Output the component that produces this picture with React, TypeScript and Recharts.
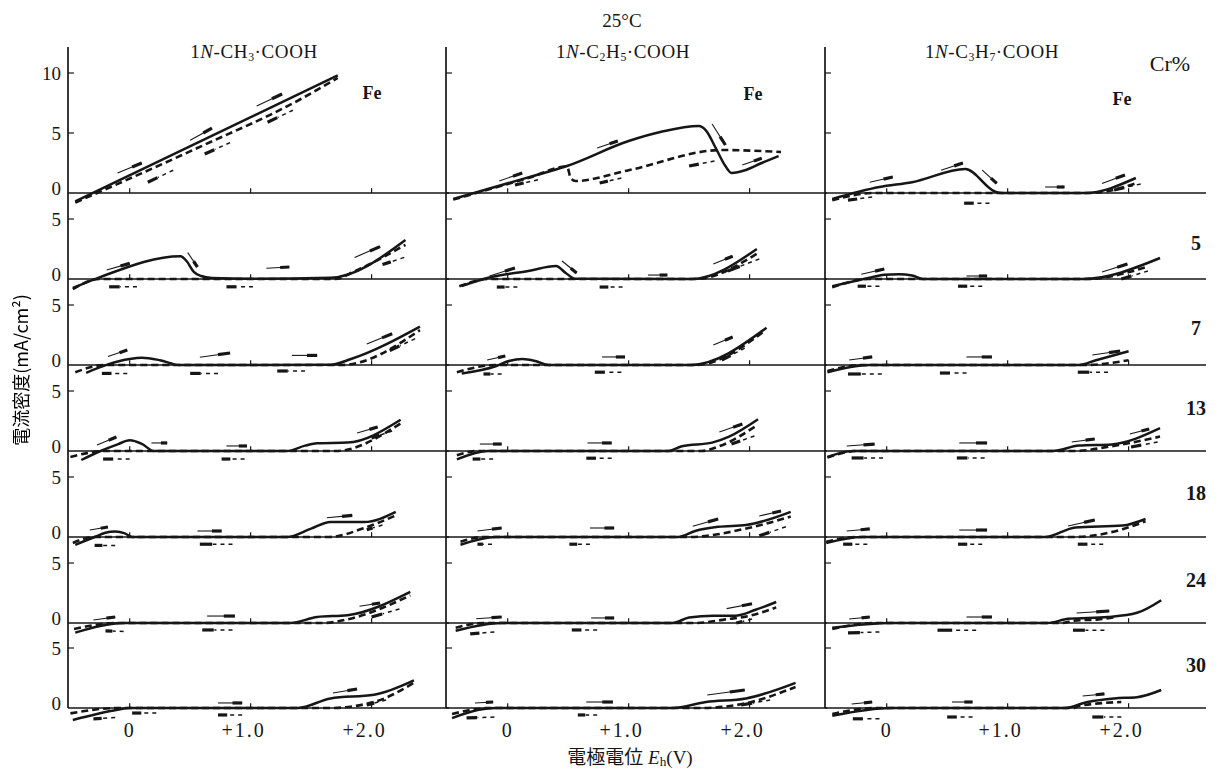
import React from 'react';
import { LineChart, Line, XAxis, YAxis, ReferenceLine } from 'recharts';

type Pt = [number, number];
type Arrow = [number, number, number, number]; // tail (E, i) -> head (E, i)

// ---- categories / ticks ----
const acidTitles = ['CH3', 'C2H5', 'C3H7'];
const crLabels = ['Fe', '5', '7', '13', '18', '24', '30'];
const xTicks = [0, 1, 2];
const xTickLabels = ['0', '+1.0', '+2.0'];
const yTicksFe = [0, 5, 10];
const yTicksCr = [0, 5];

// ---- 1N-CH3·COOH (forward scan = solid, reverse scan = dashed), [E (V), i (mA/cm2)] ----
const acFeSolid: Pt[] = [[-0.45, -0.7], [1.72, 9.8]];
const acFeDashed: Pt[] = [[-0.45, -0.8], [0.56, 3.75], [1.4, 7.75], [1.72, 9.6]];
const acCr5Solid: Pt[] = [[-0.47, -0.75], [-0.26, 0.1], [0.42, 1.9], [0.47, 1.5], [0.53, 0.6], [0.59, 0.25], [0.68, 0.08], [1.0, 0.02], [1.66, 0.1], [2.28, 3.25]];
const acCr5Dashed: Pt[] = [[-0.47, -0.85], [-0.25, 0], [1.7, 0], [1.85, 0.6], [2.28, 2.85]];
const acCr7Solid: Pt[] = [[-0.36, -0.65], [-0.18, 0.05], [0.0, 0.5], [0.1, 0.6], [0.25, 0.4], [0.41, 0], [1.66, 0.02], [1.83, 0.5], [2.4, 3.2]];
const acCr7Dashed: Pt[] = [[-0.45, -0.6], [-0.2, 0], [1.75, 0], [2.4, 2.9]];
const acCr13Solid: Pt[] = [[-0.4, -0.75], [-0.24, 0], [-0.1, 0.55], [0.0, 0.9], [0.1, 0.6], [0.2, 0], [1.3, 0], [1.45, 0.45], [1.55, 0.65], [1.8, 0.7], [2.24, 2.6]];
const acCr13Dashed: Pt[] = [[-0.49, -0.5], [-0.2, 0], [1.7, 0], [2.24, 2.3]];
const acCr18Solid: Pt[] = [[-0.45, -0.65], [-0.29, 0], [-0.2, 0.35], [-0.12, 0.45], [-0.04, 0.3], [0.02, 0], [1.3, 0], [1.5, 0.7], [1.66, 1.25], [1.94, 1.25], [2.2, 2.1]];
const acCr18Dashed: Pt[] = [[-0.47, -0.5], [-0.3, 0], [1.65, 0], [1.94, 0.75], [2.2, 1.8]];
const acCr24Solid: Pt[] = [[-0.45, -0.8], [-0.04, 0], [1.33, 0], [1.55, 0.5], [1.8, 0.65], [2.32, 2.6]];
const acCr24Dashed: Pt[] = [[-0.46, -0.5], [-0.1, 0], [1.6, 0], [1.8, 0.3], [2.32, 2.3]];
const acCr30Solid: Pt[] = [[-0.47, -1.0], [-0.1, -0.15], [0.0, 0], [1.39, 0], [1.66, 0.8], [2.02, 1.1], [2.35, 2.3]];
const acCr30Dashed: Pt[] = [[-0.49, -0.45], [-0.1, 0], [1.65, 0], [2.02, 0.5], [2.35, 2.1]];

// ---- 1N-C2H5·COOH ----
const prFeSolid: Pt[] = [[-0.45, -0.5], [0.17, 1.3], [0.49, 2.25], [1.0, 4.33], [1.27, 5.1], [1.58, 5.58], [1.64, 5.2], [1.72, 3.75], [1.8, 2.25], [1.85, 1.67], [1.97, 1.92], [2.1, 2.5], [2.24, 3.08]];
const prFeDashed: Pt[] = [[-0.45, -0.55], [0.17, 1.25], [0.49, 2.2], [0.5, 2.0], [0.52, 1.25], [0.56, 1.0], [1.0, 1.9], [1.77, 3.58], [2.26, 3.42]];
const prCr5Solid: Pt[] = [[-0.38, -0.58], [-0.16, 0.1], [0.17, 0.67], [0.4, 1.08], [0.48, 0.5], [0.56, 0.02], [1.52, 0], [2.06, 2.5]];
const prCr5Dashed: Pt[] = [[-0.4, -0.6], [-0.15, 0], [1.55, 0], [2.06, 2.1]];
const prCr7Solid: Pt[] = [[-0.38, -0.7], [-0.1, -0.1], [0.01, 0.33], [0.12, 0.5], [0.23, 0.33], [0.34, 0], [1.51, 0], [2.14, 3.1]];
const prCr7Dashed: Pt[] = [[-0.42, -0.6], [-0.1, 0], [1.55, 0], [2.12, 2.8]];
const prCr13Solid: Pt[] = [[-0.42, -0.7], [-0.16, 0], [1.33, 0], [1.44, 0.4], [1.69, 0.7], [1.83, 1.2], [2.07, 2.65]];
const prCr13Dashed: Pt[] = [[-0.42, -0.35], [-0.25, 0], [1.6, 0], [1.75, 0.4], [2.07, 2.2]];
const prCr18Solid: Pt[] = [[-0.39, -0.65], [-0.1, 0], [1.41, 0], [1.55, 0.5], [1.74, 0.85], [1.97, 1.0], [2.34, 2.1]];
const prCr18Dashed: Pt[] = [[-0.39, -0.4], [-0.2, 0], [1.5, 0], [1.99, 0.75], [2.34, 1.7]];
const prCr24Solid: Pt[] = [[-0.43, -0.65], [-0.05, 0], [1.36, 0], [1.5, 0.45], [1.7, 0.6], [1.88, 0.6], [2.05, 1.1], [2.22, 1.75]];
const prCr24Dashed: Pt[] = [[-0.43, -0.4], [-0.2, 0], [1.55, 0], [1.8, 0.3], [2.0, 0.6], [2.22, 1.3]];
const prCr30Solid: Pt[] = [[-0.46, -0.85], [-0.24, -0.15], [-0.1, 0], [1.36, 0], [1.64, 0.5], [1.97, 0.8], [2.38, 2.1]];
const prCr30Dashed: Pt[] = [[-0.46, -0.5], [-0.15, 0], [1.6, 0], [1.97, 0.4], [2.38, 1.75]];

// ---- 1N-C3H7·COOH ----
const buFeSolid: Pt[] = [[-0.45, -0.5], [-0.06, 0.5], [0.21, 0.9], [0.65, 2.0], [0.9, 0.1], [0.95, 0], [1.64, 0], [2.06, 1.25]];
const buFeDashed: Pt[] = [[-0.45, -0.6], [-0.1, 0], [1.68, 0], [2.06, 0.8]];
const buCr5Solid: Pt[] = [[-0.45, -0.6], [-0.12, 0.15], [-0.02, 0.35], [0.1, 0.4], [0.21, 0.3], [0.3, 0], [1.62, 0], [2.26, 1.75]];
const buCr5Dashed: Pt[] = [[-0.45, -0.7], [-0.15, 0], [1.65, 0], [2.15, 1.0]];
const buCr7Solid: Pt[] = [[-0.49, -0.6], [-0.14, 0], [1.59, 0], [1.73, 0.4], [2.0, 1.15]];
const buCr7Dashed: Pt[] = [[-0.49, -0.5], [-0.2, 0], [1.65, 0], [2.0, 0.4]];
const buCr13Solid: Pt[] = [[-0.49, -0.5], [-0.28, 0], [1.37, 0], [1.59, 0.45], [1.86, 0.55], [2.26, 1.9]];
const buCr13Dashed: Pt[] = [[-0.49, -0.55], [-0.25, 0], [1.55, 0], [1.86, 0.4], [2.26, 1.2]];
const buCr18Solid: Pt[] = [[-0.5, -0.5], [-0.2, 0], [1.31, 0], [1.56, 0.8], [1.95, 0.95], [2.14, 1.5]];
const buCr18Dashed: Pt[] = [[-0.5, -0.4], [-0.25, 0], [1.55, 0], [1.95, 0.65], [2.14, 1.3]];
const buCr24Solid: Pt[] = [[-0.45, -0.4], [0.04, 0], [1.33, 0], [1.5, 0.35], [1.83, 0.5], [2.07, 0.85], [2.27, 1.9]];
const buCr24Dashed: Pt[] = [[-0.45, -0.5], [-0.1, 0], [1.45, 0], [1.55, 0.2], [1.75, 0.3], [1.9, 0.5]];
const buCr30Solid: Pt[] = [[-0.45, -0.65], [0.04, 0], [1.47, 0], [1.66, 0.5], [1.88, 0.8], [2.07, 0.9], [2.27, 1.5]];
const buCr30Dashed: Pt[] = [[-0.45, -0.5], [-0.1, 0], [1.55, 0], [1.58, 0.15], [1.94, 0.5]];

// ---- scan-direction arrows: forward (solid) and reverse (dash-dot), tail -> head ----
const acFeFwd: Arrow[] = [[-0.1, 1.67, 0.1, 2.5], [0.5, 4.4, 0.68, 5.4], [1.05, 7.25, 1.26, 8.25]];
const acFeRev: Arrow[] = [[0.36, 1.9, 0.15, 0.9], [0.83, 4.2, 0.62, 3.25], [1.35, 6.9, 1.14, 5.9]];
const acCr5Fwd: Arrow[] = [[-0.19, 0.75, 0.0, 1.3], [0.48, 2.2, 0.56, 1.0], [1.13, 0.9, 1.32, 1.0], [1.86, 1.8, 2.07, 2.7]];
const acCr5Rev: Arrow[] = [[0.06, -0.65, -0.17, -0.65], [1.02, -0.65, 0.8, -0.65], [2.27, 1.8, 2.09, 1.2]];
const acCr7Fwd: Arrow[] = [[-0.18, 0.7, -0.02, 1.25], [0.58, 0.65, 0.83, 1.0], [1.34, 0.8, 1.55, 0.8], [1.96, 1.75, 2.17, 2.6]];
const acCr7Rev: Arrow[] = [[-0.02, -0.7, -0.23, -0.7], [0.73, -0.7, 0.5, -0.7], [1.45, -0.5, 1.22, -0.5], [2.36, 2.2, 2.15, 1.2]];
const acCr13Fwd: Arrow[] = [[-0.27, 0.5, -0.11, 1.17], [0.18, 0.67, 0.31, 0.67], [0.8, 0.42, 0.97, 0.42], [1.88, 1.5, 2.05, 2.0]];
const acCr13Rev: Arrow[] = [[0.0, -0.67, -0.22, -0.67], [0.95, -0.67, 0.76, -0.67], [2.17, 1.67, 2.0, 1.08]];
const acCr18Fwd: Arrow[] = [[-0.33, 0.58, -0.18, 0.83], [0.56, 0.5, 0.76, 0.5], [1.63, 1.6, 1.84, 1.8]];
const acCr18Rev: Arrow[] = [[-0.12, -0.7, -0.29, -0.7], [0.85, -0.6, 0.58, -0.6], [2.09, 1.0, 1.96, 0.6]];
const acCr24Fwd: Arrow[] = [[-0.3, 0.25, -0.12, 0.5], [0.64, 0.58, 0.87, 0.58], [1.9, 1.4, 2.07, 1.67]];
const acCr24Rev: Arrow[] = [[-0.05, -0.7, -0.2, -0.65], [0.85, -0.58, 0.6, -0.58], [2.23, 1.17, 2.0, 0.5]];
const acCr30Fwd: Arrow[] = [[0.73, 0.42, 0.93, 0.42], [1.68, 1.25, 1.88, 1.58]];
const acCr30Rev: Arrow[] = [[0.22, -0.42, 0.02, -0.42], [-0.12, -0.8, -0.3, -0.9], [0.93, -0.58, 0.73, -0.58], [2.12, 0.67, 1.96, 0.25]];

const prFeFwd: Arrow[] = [[-0.07, 1.0, 0.12, 1.67], [0.74, 3.75, 0.91, 4.33], [1.69, 5.75, 1.8, 4.0], [1.94, 2.33, 2.1, 2.9]];
const prFeRev: Arrow[] = [[0.25, 1.1, 0.06, 0.67], [0.94, 1.25, 0.76, 0.83], [1.71, 2.67, 1.5, 2.25]];
const prCr5Fwd: Arrow[] = [[-0.15, 0.25, 0.06, 0.92], [0.45, 1.5, 0.57, 0.5], [1.16, 0.33, 1.32, 0.33], [1.7, 1.25, 1.86, 1.9]];
const prCr5Rev: Arrow[] = [[0.08, -0.67, -0.09, -0.67], [0.95, -0.67, 0.76, -0.67], [2.08, 1.67, 1.82, 0.67]];
const prCr7Fwd: Arrow[] = [[-0.17, 0.42, -0.02, 0.75], [0.78, 0.67, 0.97, 0.67], [1.7, 1.67, 1.86, 2.33]];
const prCr7Rev: Arrow[] = [[-0.05, -0.75, -0.2, -0.75], [0.94, -0.6, 0.72, -0.6], [1.96, 1.4, 1.77, 0.42]];
const prCr13Fwd: Arrow[] = [[-0.23, 0.58, -0.05, 0.58], [0.66, 0.67, 0.86, 0.67], [1.75, 1.58, 1.94, 2.25]];
const prCr13Rev: Arrow[] = [[-0.12, -0.67, -0.29, -0.67], [0.86, -0.6, 0.65, -0.6], [2.04, 1.25, 1.85, 0.58]];
const prCr18Fwd: Arrow[] = [[-0.25, 0.5, -0.05, 0.75], [0.68, 0.75, 0.88, 0.75], [1.53, 0.9, 1.74, 1.5], [2.08, 1.75, 2.26, 2.17]];
const prCr18Rev: Arrow[] = [[-0.13, -0.6, -0.25, -0.6], [0.68, -0.6, 0.51, -0.6], [2.3, 0.85, 2.08, 0.1]];
const prCr24Fwd: Arrow[] = [[-0.26, 0.35, -0.05, 0.5], [0.69, 0.42, 0.88, 0.42], [1.81, 1.2, 2.02, 1.6]];
const prCr24Rev: Arrow[] = [[-0.11, -0.75, -0.31, -0.9], [0.74, -0.58, 0.53, -0.58], [2.02, 0.33, 1.89, 0.0]];
const prCr30Fwd: Arrow[] = [[-0.27, 0.42, -0.12, 0.5], [0.65, 0.5, 0.87, 0.5], [1.65, 1.08, 1.96, 1.5]];
const prCr30Rev: Arrow[] = [[-0.11, -0.75, -0.34, -0.83], [0.74, -0.58, 0.58, -0.58], [2.17, 0.67, 1.93, 0.25]];

const buFeFwd: Arrow[] = [[-0.14, 0.9, 0.05, 1.33], [0.45, 1.9, 0.63, 2.5], [0.79, 1.9, 0.91, 0.8], [1.31, 0.5, 1.47, 0.5], [1.78, 0.8, 1.97, 1.5]];
const buFeRev: Arrow[] = [[-0.12, -0.33, -0.32, -0.6], [0.85, -0.85, 0.64, -0.85], [2.1, 0.75, 1.88, 0.25]];
const buCr5Fwd: Arrow[] = [[-0.21, 0.4, -0.02, 0.83], [0.66, 0.25, 0.83, 0.25], [1.78, 0.58, 1.99, 1.25]];
const buCr5Rev: Arrow[] = [[-0.06, -0.6, -0.24, -0.6], [0.79, -0.6, 0.59, -0.6], [2.16, 0.67, 1.94, 0.0]];
const buCr7Fwd: Arrow[] = [[-0.31, 0.42, -0.12, 0.67], [0.66, 0.67, 0.87, 0.67], [1.7, 0.83, 1.93, 1.17]];
const buCr7Rev: Arrow[] = [[-0.04, -0.75, -0.32, -0.75], [0.66, -0.67, 0.44, -0.67], [1.83, -0.6, 1.58, -0.6]];
const buCr13Fwd: Arrow[] = [[-0.33, 0.42, -0.1, 0.58], [0.6, 0.67, 0.83, 0.67], [1.53, 0.75, 1.72, 1.0], [2.01, 1.42, 2.17, 1.83]];
const buCr13Rev: Arrow[] = [[-0.03, -0.58, -0.29, -0.58], [0.81, -0.58, 0.58, -0.58], [2.24, 0.75, 2.02, 0.33]];
const buCr18Fwd: Arrow[] = [[-0.33, 0.5, -0.14, 0.67], [0.6, 0.58, 0.83, 0.58], [1.5, 0.92, 1.72, 1.42]];
const buCr18Rev: Arrow[] = [[-0.16, -0.6, -0.36, -0.6], [0.79, -0.6, 0.59, -0.6], [1.79, -0.6, 1.58, -0.6]];
const buCr24Fwd: Arrow[] = [[-0.31, 0.33, -0.14, 0.5], [0.66, 0.5, 0.87, 0.5], [1.57, 0.83, 1.84, 1.0]];
const buCr24Rev: Arrow[] = [[-0.06, -0.75, -0.32, -0.83], [0.74, -0.6, 0.42, -0.6], [1.8, -0.6, 1.54, -0.6]];
const buCr30Fwd: Arrow[] = [[-0.29, 0.33, -0.12, 0.5], [0.54, 0.5, 0.71, 0.5], [1.62, 1.0, 1.8, 1.17]];
const buCr30Rev: Arrow[] = [[-0.06, -0.9, -0.28, -0.9], [0.71, -0.75, 0.5, -0.75], [1.94, -0.75, 1.7, -0.75]];

const solidSets: Pt[][][] = [
  [acFeSolid, acCr5Solid, acCr7Solid, acCr13Solid, acCr18Solid, acCr24Solid, acCr30Solid],
  [prFeSolid, prCr5Solid, prCr7Solid, prCr13Solid, prCr18Solid, prCr24Solid, prCr30Solid],
  [buFeSolid, buCr5Solid, buCr7Solid, buCr13Solid, buCr18Solid, buCr24Solid, buCr30Solid],
];
const dashedSets: Pt[][][] = [
  [acFeDashed, acCr5Dashed, acCr7Dashed, acCr13Dashed, acCr18Dashed, acCr24Dashed, acCr30Dashed],
  [prFeDashed, prCr5Dashed, prCr7Dashed, prCr13Dashed, prCr18Dashed, prCr24Dashed, prCr30Dashed],
  [buFeDashed, buCr5Dashed, buCr7Dashed, buCr13Dashed, buCr18Dashed, buCr24Dashed, buCr30Dashed],
];
const fwdSets: Arrow[][][] = [
  [acFeFwd, acCr5Fwd, acCr7Fwd, acCr13Fwd, acCr18Fwd, acCr24Fwd, acCr30Fwd],
  [prFeFwd, prCr5Fwd, prCr7Fwd, prCr13Fwd, prCr18Fwd, prCr24Fwd, prCr30Fwd],
  [buFeFwd, buCr5Fwd, buCr7Fwd, buCr13Fwd, buCr18Fwd, buCr24Fwd, buCr30Fwd],
];
const revSets: Arrow[][][] = [
  [acFeRev, acCr5Rev, acCr7Rev, acCr13Rev, acCr18Rev, acCr24Rev, acCr30Rev],
  [prFeRev, prCr5Rev, prCr7Rev, prCr13Rev, prCr18Rev, prCr24Rev, prCr30Rev],
  [buFeRev, buCr5Rev, buCr7Rev, buCr13Rev, buCr18Rev, buCr24Rev, buCr30Rev],
];

// ---- layout ----
const X_MIN = -0.51;
const X_MAX = 2.64;
const PLOT_W = 381;
const COL_LEFT = [68, 446, 825];
const TOP = 47;
const ROW_ZERO = [193, 279, 365, 451, 537, 623, 708];
const PX_PER_MA = 12;
const BELOW = 1.5;
const Y_AXIS_W = 60;
const X_AXIS_H = 34;
const INK = '#161616';
const SERIF = '"Liberation Serif", "DejaVu Serif", serif';
const CJK = '"Noto Sans CJK JP", "Noto Sans CJK SC", sans-serif';

const toRows = (pts: Pt[]) => pts.map(([v, i]) => ({ v, i }));
const lerp = (a: Arrow, t: number) => ({ x: a[0] + (a[2] - a[0]) * t, y: a[1] + (a[3] - a[1]) * t });

const YTick = (props: any) => {
  const { x, y, payload } = props;
  const isZero = payload.value === 0;
  return (
    <text x={x} y={y + (isZero ? -5 : 0)} dy="0.36em" textAnchor="end" fontFamily={SERIF} fontSize={19} fill={INK}>
      {payload.value}
    </text>
  );
};

const XTick = (props: any) => {
  const { x, y, payload } = props;
  const idx = xTicks.indexOf(payload.value);
  const label = xTickLabels[idx] ?? String(payload.value);
  const plus = label.startsWith('+');
  return (
    <text x={x + (plus ? -7 : 0)} y={y + 4} dominantBaseline="central" textAnchor="middle" fontFamily={SERIF} fontSize={20} letterSpacing={2} fill={INK}>
      {label}
    </text>
  );
};

function Panel({ col, row }: { col: number; row: number }) {
  const top = row === 0 ? TOP : ROW_ZERO[row - 1];
  const zero = ROW_ZERO[row];
  const yMax = (zero - top) / PX_PER_MA;
  const plotH = zero - top + BELOW * PX_PER_MA;
  const isBottom = row === ROW_ZERO.length - 1;
  const h = plotH + (isBottom ? X_AXIS_H : 0);
  const yTicks = row === 0 ? yTicksFe : yTicksCr;
  const solid = solidSets[col][row];
  const dashed = dashedSets[col][row];
  const fwd = fwdSets[col][row];
  const rev = revSets[col][row];
  return (
    <div style={{ position: 'absolute', left: COL_LEFT[col] - Y_AXIS_W, top }}>
      <LineChart width={Y_AXIS_W + PLOT_W} height={h} margin={{ top: 0, right: 0, bottom: 0, left: 0 }}>
        <XAxis
          type="number"
          dataKey="v"
          domain={[X_MIN, X_MAX]}
          allowDataOverflow
          ticks={xTicks}
          hide={!isBottom}
          height={X_AXIS_H}
          axisLine={false}
          tickLine={false}
          tickSize={0}
          tickMargin={0}
          tick={<XTick />}
        />
        <YAxis
          type="number"
          dataKey="i"
          domain={[-BELOW, yMax]}
          allowDataOverflow
          ticks={yTicks}
          width={Y_AXIS_W}
          axisLine={false}
          tickLine={false}
          tickSize={0}
          tickMargin={7}
          tick={col === 0 ? <YTick /> : false}
        />
        <ReferenceLine segment={[{ x: X_MIN, y: 0 }, { x: X_MIN, y: yMax }]} stroke={INK} strokeWidth={1.7} />
        <ReferenceLine y={0} stroke={INK} strokeWidth={1.7} />
        {yTicks.filter((t) => t !== 0).map((t) => (
          <ReferenceLine key={'yt' + t} segment={[{ x: X_MIN, y: t }, { x: X_MIN + 0.05, y: t }]} stroke={INK} strokeWidth={1.2} />
        ))}
        {xTicks.map((t) => (
          <ReferenceLine key={'xt' + t} segment={[{ x: t, y: 0 }, { x: t, y: 0.4 }]} stroke={INK} strokeWidth={1.2} />
        ))}
        {fwd.map((a, k) => (
          <ReferenceLine key={'ft' + k} segment={[lerp(a, 0), lerp(a, 1)]} stroke={INK} strokeWidth={1.1} />
        ))}
        {fwd.map((a, k) => (
          <ReferenceLine key={'fh' + k} segment={[lerp(a, 0.6), lerp(a, 1)]} stroke={INK} strokeWidth={3.2} />
        ))}
        {rev.map((a, k) => (
          <ReferenceLine key={'rt' + k} segment={[lerp(a, 0), lerp(a, 0.6)]} stroke={INK} strokeWidth={1.5} strokeDasharray="4 4" />
        ))}
        {rev.map((a, k) => (
          <ReferenceLine key={'rh' + k} segment={[lerp(a, 0.62), lerp(a, 1)]} stroke={INK} strokeWidth={3.2} />
        ))}
        <Line data={toRows(dashed)} dataKey="i" type="monotoneX" stroke={INK} strokeWidth={2.6} strokeDasharray="7 4" dot={false} isAnimationActive={false} />
        <Line data={toRows(solid)} dataKey="i" type="monotoneX" stroke={INK} strokeWidth={2.5} dot={false} isAnimationActive={false} />
      </LineChart>
    </div>
  );
}

const abs = (x: number, y: number, extra: React.CSSProperties = {}): React.CSSProperties => ({
  position: 'absolute',
  left: x,
  top: y,
  transform: 'translate(-50%, -50%)',
  whiteSpace: 'nowrap',
  color: INK,
  lineHeight: 1,
  ...extra,
});

const sub = (s: string) => <span style={{ fontSize: '0.62em', verticalAlign: '-0.25em' }}>{s}</span>;

function AcidTitle({ name }: { name: string }) {
  const m = name.match(/^C(\d?)H(\d)$/);
  const c = m ? m[1] : '';
  const hN = m ? m[2] : '';
  return (
    <span>
      1<i>N</i>-C{c ? sub(c) : null}H{sub(hN)}·COOH
    </span>
  );
}

const TITLE_X = [254, 623, 992];
const FE_POS: [number, number][] = [[372, 93], [753, 94], [1122, 99]];
const CR_LABEL_Y = [0, 243, 328, 408, 493, 580, 665];

export default function App() {
  const cells: JSX.Element[] = [];
  for (let c = 0; c < 3; c++) for (let r = 0; r < ROW_ZERO.length; r++) cells.push(<Panel key={c + '-' + r} col={c} row={r} />);
  return (
    <div style={{ position: 'absolute', left: 0, top: 0, width: 1219, height: 773, background: '#fff', overflow: 'hidden', fontFamily: SERIF }}>
      {cells}
      <div style={abs(622, 20, { fontSize: 19 })}>25°C</div>
      {acidTitles.map((a, i) => (
        <div key={a} style={abs(TITLE_X[i], 53, { fontSize: 19, letterSpacing: 0.6 })}>
          <AcidTitle name={a} />
        </div>
      ))}
      <div style={abs(1170, 64, { fontSize: 22 })}>Cr%</div>
      {FE_POS.map(([x, y], i) => (
        <div key={'fe' + i} style={abs(x, y, { fontSize: 18, fontWeight: 700 })}>{crLabels[0]}</div>
      ))}
      {crLabels.slice(1).map((l, i) => (
        <div key={'cr' + l} style={abs(1196, CR_LABEL_Y[i + 1], { fontSize: 20, fontWeight: 700 })}>{l}</div>
      ))}
      <svg style={{ position: 'absolute', left: 0, top: 220, opacity: 0.999, willChange: 'transform' }} width={40} height={300}>
        <text x={20} y={150} transform="rotate(-90 20 150)" textAnchor="middle" dominantBaseline="central" fontFamily={CJK} fontSize={18} fill="#000" stroke="none">
          電流密度(mA/cm²)
        </text>
      </svg>
      <div style={abs(630, 757, { fontSize: 19 })}>
        <span style={{ fontFamily: CJK }}>電極電位</span>&nbsp;<i>E</i>
        <span style={{ fontSize: '0.7em', verticalAlign: '-0.1em' }}>h</span>(V)
      </div>
    </div>
  );
}
